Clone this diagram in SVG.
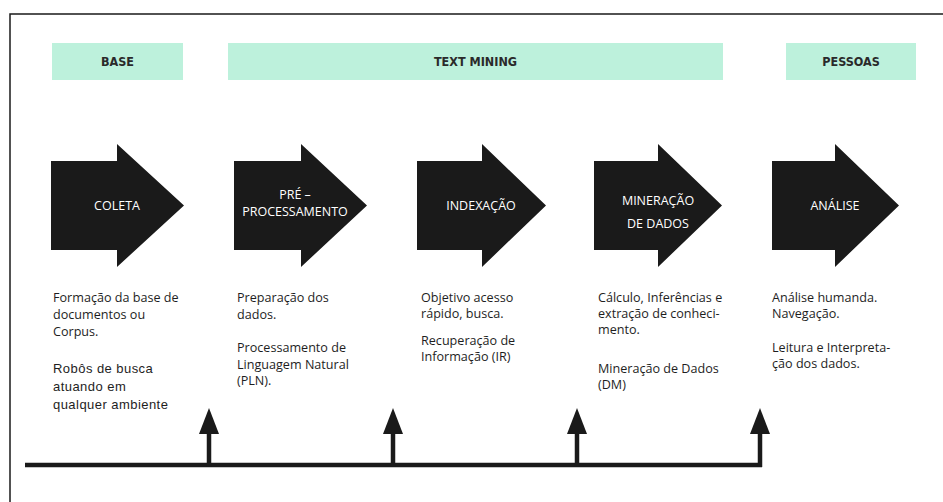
<svg xmlns="http://www.w3.org/2000/svg" width="943" height="502" viewBox="0 0 943 502">
<style>
.frame{fill:none;stroke:#1a1a1a;stroke-width:1.5}
.hdr{fill:#bdf1dc}
.hdrt{font-family:"DejaVu Sans Condensed","DejaVu Sans",sans-serif;font-weight:bold;font-size:12.5px;fill:#2a2a2a;text-anchor:middle}
.arrow{fill:#1a1a1a}
.lbl{font-family:"Open Sans","Noto Sans",sans-serif;font-size:12.5px;fill:#ffffff;text-anchor:middle}
.desc{font-family:"Open Sans","Noto Sans",sans-serif;font-size:12.6px;fill:#1e1e1e}
.desc2{font-family:"Liberation Sans",Arial,sans-serif;font-size:13px;letter-spacing:0.45px;fill:#1e1e1e}
.axis{stroke:#1a1a1a;stroke-width:4.5;fill:none}
.tick{fill:#1a1a1a}
</style>
<rect width="943" height="502" fill="#ffffff"/>
<rect class="frame" x="10" y="14" width="960" height="520"/>

<g id="hdr-base"><rect class="hdr" x="52" y="43" width="131" height="37"/><text class="hdrt" x="117.5" y="66">BASE</text></g>
<g id="hdr-textmining"><rect class="hdr" x="228" y="43" width="495" height="37"/><text class="hdrt" x="475.5" y="66">TEXT MINING</text></g>
<g id="hdr-pessoas"><rect class="hdr" x="786" y="43" width="130" height="37"/><text class="hdrt" x="851" y="66">PESSOAS</text></g>

<g id="coleta">
<polygon class="arrow" points="51,161 117,161 117,144 184,205.5 117,267 117,250 51,250"/>
<text class="lbl" x="117" y="210">COLETA</text>
</g>
<g id="preprocessamento">
<polygon class="arrow" points="234,161 301,161 301,144 367,205.5 301,267 301,250 234,250"/>
<text class="lbl" x="295" y="199">PRÉ –</text>
<text class="lbl" x="295" y="216">PROCESSAMENTO</text>
</g>
<g id="indexacao">
<polygon class="arrow" points="417,161 482,161 482,144 546,205.5 482,267 482,250 417,250"/>
<text class="lbl" x="481" y="210">INDEXAÇÃO</text>
</g>
<g id="mineracao">
<polygon class="arrow" points="594,161 658,161 658,144 722,205.5 658,267 658,250 594,250"/>
<text class="lbl" x="658" y="205">MINERAÇÃO</text>
<text class="lbl" x="658" y="228">DE DADOS</text>
</g>
<g id="analise">
<polygon class="arrow" points="772,161 835,161 835,144 899,205.5 835,267 835,250 772,250"/>
<text class="lbl" x="835" y="210">ANÁLISE</text>
</g>

<g id="desc-coleta">
<text class="desc" x="53" y="302">Formação da base de</text>
<text class="desc" x="53" y="319">documentos ou</text>
<text class="desc" x="53" y="336">Corpus.</text>
<text class="desc2" x="53" y="373">Robôs de busca</text>
<text class="desc2" x="53" y="391">atuando em</text>
<text class="desc2" x="53" y="409">qualquer ambiente</text>
</g>
<g id="desc-preprocessamento">
<text class="desc" x="237" y="302">Preparação dos</text>
<text class="desc" x="237" y="319">dados.</text>
<text class="desc" x="237" y="352">Processamento de</text>
<text class="desc" x="237" y="369">Linguagem Natural</text>
<text class="desc" x="237" y="385">(PLN).</text>
</g>
<g id="desc-indexacao">
<text class="desc" x="421" y="302">Objetivo acesso</text>
<text class="desc" x="421" y="318">rápido, busca.</text>
<text class="desc" x="421" y="345">Recuperação de</text>
<text class="desc" x="421" y="361">Informação (IR)</text>
</g>
<g id="desc-mineracao">
<text class="desc" x="598" y="302">Cálculo, Inferências e</text>
<text class="desc" x="598" y="318">extração de conheci-</text>
<text class="desc" x="598" y="334">mento.</text>
<text class="desc" x="598" y="373">Mineração de Dados</text>
<text class="desc" x="598" y="389">(DM)</text>
</g>
<g id="desc-analise">
<text class="desc" x="772" y="302">Análise humanda.</text>
<text class="desc" x="772" y="318">Navegação.</text>
<text class="desc" x="772" y="352">Leitura e Interpreta-</text>
<text class="desc" x="772" y="368">ção dos dados.</text>
</g>

<g id="connectors">
<line class="axis" x1="25" y1="465" x2="762" y2="465"/>
<line class="axis" x1="209" y1="467" x2="209" y2="430"/>
<polygon class="tick" points="199,434 209,408 219,434"/>
<line class="axis" x1="393" y1="467" x2="393" y2="430"/>
<polygon class="tick" points="383,434 393,408 403,434"/>
<line class="axis" x1="577" y1="467" x2="577" y2="430"/>
<polygon class="tick" points="567,434 577,408 587,434"/>
<line class="axis" x1="760" y1="467" x2="760" y2="430"/>
<polygon class="tick" points="750,434 760,408 770,434"/>
</g>
</svg>
